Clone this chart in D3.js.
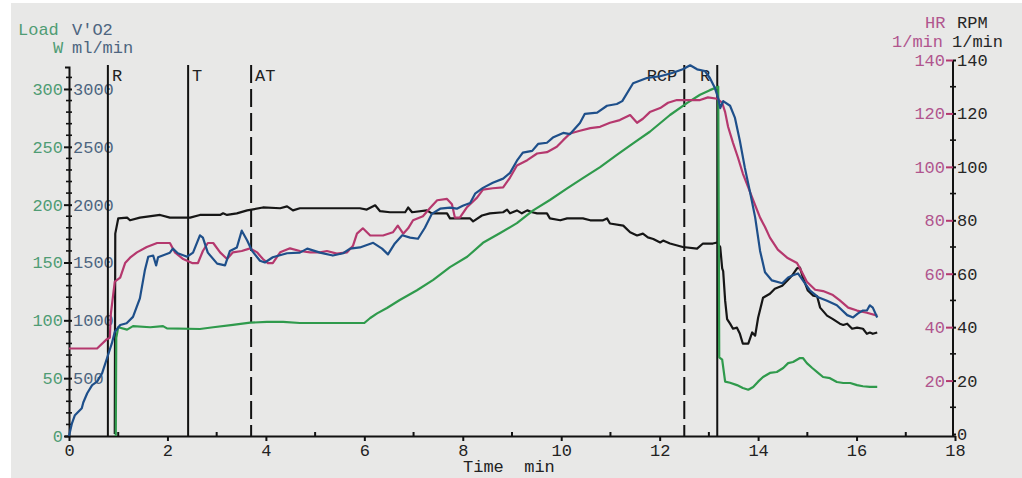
<!DOCTYPE html>
<html>
<head>
<meta charset="utf-8">
<script src="https://cdn.jsdelivr.net/npm/d3@7"></script>
<style>
  body { margin: 0; background: #fff; }
  svg text { font-family: "Liberation Mono", "DejaVu Sans Mono", monospace; font-size: 17px; }
</style>
</head>
<body>
<svg id="chart" width="1022" height="478"></svg>
<script>
// ---- data: [time min, value] ----
const xTicks = [0, 2, 4, 6, 8, 10, 12, 14, 16, 18];
const loadTicks = [0, 50, 100, 150, 200, 250, 300];
const vo2Ticks = [500, 1000, 1500, 2000, 2500, 3000];
const hrTicks = [20, 40, 60, 80, 100, 120, 140];
const rpmTicks = [0, 20, 40, 60, 80, 100, 120, 140];

const markerTimes = [0.79, 2.42, 3.70, 12.5, 13.17];
const markerLabels = ['R', 'T', 'AT', 'RCP', 'R'];
const markerDashed = [false, false, true, true, false];

// V'O2 ml/min
const vo2Data = [
  [0,0],[0.06,110],[0.12,180],[0.26,240],[0.29,290],[0.37,370],[0.47,440],[0.57,470],[0.67,540],
  [0.77,670],[0.87,800],[0.93,900],[1.04,960],[1.17,975],[1.30,1030],[1.44,1190],[1.54,1430],
  [1.61,1550],[1.71,1560],[1.77,1475],[1.81,1545],[2.05,1585],[2.11,1620],[2.21,1580],[2.40,1550],
  [2.52,1585],[2.66,1735],[2.72,1715],[2.82,1585],[3.01,1490],[3.17,1475],[3.27,1600],[3.41,1630],
  [3.51,1775],[3.62,1690],[3.72,1600],[3.88,1515],[3.98,1500],[4.14,1545],[4.43,1580],[4.69,1585],
  [4.84,1620],[5.10,1585],[5.36,1560],[5.57,1580],[5.71,1620],[5.91,1630],[6.18,1670],[6.36,1620],
  [6.48,1570],[6.62,1665],[6.77,1735],[6.93,1715],[7.09,1705],[7.23,1800],[7.37,1920],[7.54,1965],
  [7.74,1975],[7.88,1965],[8.00,1990],[8.15,2015],[8.25,2095],[8.41,2145],[8.61,2190],[8.82,2225],
  [8.96,2275],[9.10,2380],[9.22,2450],[9.41,2465],[9.53,2525],[9.71,2535],[9.83,2580],[10.04,2620],
  [10.18,2610],[10.38,2705],[10.48,2785],[10.73,2795],[10.93,2855],[11.13,2870],[11.24,2895],
  [11.46,3050],[11.74,3095],[12.01,3110],[12.27,3140],[12.47,3170],[12.62,3205],[12.76,3170],
  [12.92,3155],[13.02,3095],[13.12,3010],[13.19,2920],[13.23,2835],[13.29,2895],[13.43,2855],
  [13.53,2750],[13.63,2550],[13.73,2320],[13.84,2100],[13.94,1890],[14.04,1600],[14.14,1415],
  [14.28,1345],[14.49,1320],[14.61,1370],[14.71,1390],[14.81,1405],[14.91,1345],[15.05,1260],
  [15.22,1200],[15.40,1170],[15.60,1130],[15.81,1045],[15.93,1025],[16.03,1060],[16.13,1085],
  [16.21,1085],[16.27,1130],[16.33,1110],[16.42,1025]
];

// HR 1/min
const hrData = [
  [0,32],[0.57,32],[0.77,35.5],[0.83,36],[0.85,45],[0.93,57],[1.04,58.5],[1.14,64],[1.24,66],
  [1.38,68],[1.58,70],[1.79,71.5],[2.05,71.5],[2.15,68],[2.32,65.5],[2.50,64],[2.62,64],[2.72,68.5],
  [2.82,71.5],[2.93,71.5],[3.07,68],[3.21,65.5],[3.33,68],[3.51,68.5],[3.68,69.5],[3.82,68],
  [3.94,65.5],[4.04,64],[4.14,64],[4.29,68],[4.49,69.5],[4.69,68.5],[4.90,68],[5.10,68],[5.24,68.5],
  [5.44,67.5],[5.65,68],[5.77,70.5],[5.85,75],[5.97,77],[6.12,74.3],[6.38,74.3],[6.58,75.5],
  [6.68,78],[6.79,75],[6.89,77],[6.99,80],[7.19,81.5],[7.33,84.5],[7.48,87.5],[7.68,88],[7.78,86],
  [7.84,81],[7.94,81],[8.09,85],[8.29,88.5],[8.41,91.5],[8.61,92],[8.82,92.3],[8.96,96],[9.10,100.5],
  [9.31,102.5],[9.51,105],[9.71,105.5],[9.91,107.5],[10.04,110],[10.18,112.5],[10.38,113.5],
  [10.59,114.5],[10.79,115],[10.99,116.5],[11.19,117.5],[11.40,119.4],[11.54,116.5],[11.66,118],
  [11.80,120.5],[12.01,122],[12.17,124],[12.35,125],[12.56,125],[12.82,125],[12.98,126],[13.17,125.5],
  [13.27,124],[13.33,120.5],[13.39,115],[13.49,109],[13.59,103.5],[13.69,97.5],[13.80,92.3],
  [13.90,87.5],[14.04,81],[14.14,77.5],[14.24,73.5],[14.40,69],[14.59,66],[14.79,64],[14.85,62],
  [14.99,57],[15.16,54],[15.32,53.5],[15.52,52],[15.66,50],[15.83,47.3],[16.01,46.2],[16.21,45.4],
  [16.42,44.3]
];

// RPM 1/min
const rpmData = [
  [0.93,0],[0.94,75],[1.0,80.7],[1.18,81],[1.24,80],[1.44,81],[1.85,82],[2.05,81],[2.46,81],
  [2.66,82],[3.07,82],[3.13,82.6],[3.21,82],[3.41,82.6],[3.62,83.7],[3.94,84.8],[4.29,84.5],
  [4.43,85.2],[4.55,83.7],[4.69,84.5],[5.91,84.5],[6.05,84],[6.22,85.6],[6.32,83.4],[6.52,83],
  [6.83,83],[6.89,84.8],[6.97,83],[7.27,83.7],[7.37,82.6],[7.68,82.6],[7.74,80.7],[8.15,80.7],
  [8.21,79.6],[8.39,81.8],[8.55,82.6],[8.82,83],[8.90,84],[8.96,82.6],[9.10,83.7],[9.20,82.6],
  [9.31,83.7],[9.41,83],[9.51,82.6],[9.71,82.6],[9.77,80.7],[9.98,80],[10.12,80.7],[10.44,80.7],
  [10.59,80],[10.85,80],[10.93,80.7],[10.99,78.8],[11.26,78],[11.40,75.5],[11.54,74.3],[11.66,75],
  [11.76,73.6],[11.87,73],[12.01,71.7],[12.07,72.4],[12.21,71.3],[12.47,70],[12.76,69.4],
  [12.88,71.3],[13.08,71.3],[13.17,71.7],[13.23,70],[13.27,62],[13.29,61],[13.33,50],[13.37,43],
  [13.43,41.3],[13.49,39.4],[13.57,39.8],[13.63,37.5],[13.69,33.8],[13.80,33.8],[13.88,38],
  [13.94,36.8],[14.00,43.5],[14.10,51],[14.24,52.5],[14.34,54.4],[14.49,55.5],[14.59,57.4],
  [14.69,59.3],[14.79,62],[14.85,62.3],[14.91,58.6],[15.01,53.7],[15.12,51.8],[15.20,51.5],
  [15.26,47.3],[15.40,44.3],[15.52,43],[15.66,41.3],[15.73,40.8],[15.81,41.3],[15.91,39.4],
  [16.01,39.8],[16.13,39.4],[16.21,37.5],[16.27,38],[16.33,37.5],[16.42,38]
];

// Load W
const loadData = [
  [0.95,0],[0.96,85],[1.0,94],[1.18,92],[1.30,95],[1.65,94],[1.91,95],[1.99,93],[2.66,92.5],
  [2.93,94],[3.33,96],[3.68,98],[4.02,98.6],[4.35,98.6],[4.69,97.7],[6.0,97.7],[6.12,102],
  [6.26,106],[6.46,110.7],[6.72,117.6],[7.07,126],[7.40,135],[7.74,146],[8.09,155],[8.41,167],
  [8.76,175.5],[9.10,184],[9.43,195],[9.77,204],[10.12,214],[10.44,223],[10.79,232.5],[11.13,243],
  [11.46,253],[11.80,263],[12.21,277.5],[12.56,288],[12.82,295],[13.02,299],[13.19,302],[13.21,68],
  [13.27,66],[13.33,47],[13.43,46],[13.57,44],[13.69,41.5],[13.80,40],[13.90,42.4],[14.00,47],
  [14.10,51],[14.24,54.5],[14.38,55.3],[14.51,58.8],[14.61,63],[14.71,64],[14.85,67.4],[14.91,67.4],
  [14.99,63],[15.10,58.8],[15.20,55.3],[15.32,51],[15.46,50],[15.60,46.7],[15.73,45.8],[15.87,45.8],
  [16.01,44],[16.13,43],[16.27,42.4],[16.42,42.4]
];

// ---- colours ----
const C = {
  load: '#2f9a4c', loadText: '#4f9c74',
  vo2: '#1e4f8a', vo2Text: '#4d6580',
  hr: '#b5386e', hrText: '#b0558e',
  rpm: '#161616', rpmText: '#262626'
};

const svg = d3.select('#chart');

// scanned paper
svg.append('rect').attr('x', 11).attr('y', 3).attr('width', 1011).attr('height', 475).attr('fill', '#e8e8e7');

const x = d3.scaleLinear().domain([0, 18]).range([69, 955]);
const yLoad = d3.scaleLinear().domain([0, 319]).range([436, 67]);
const yVO2 = d3.scaleLinear().domain([0, 3190]).range([436, 67]);
const yHR = d3.scaleLinear().domain([0, 140]).range([434, 60]);
const fmt = d3.format('d');

function styleAxis(g, color) {
  g.selectAll('line').attr('stroke', '#111').attr('stroke-width', 2);
  g.selectAll('path').attr('stroke', '#111').attr('stroke-width', 2);
  g.selectAll('text').attr('fill', color).style('font-size', '17px')
    .style('font-family', '"Liberation Mono", "DejaVu Sans Mono", monospace');
}

// ---- left axis (Load / V'O2) ----
const gL = svg.append('g').attr('transform', `translate(${x(0)},0)`);
gL.append('g')
  .call(d3.axisLeft(yLoad).tickValues(loadTicks).tickFormat(fmt).tickSizeInner(5).tickSizeOuter(4).tickPadding(1))
  .call(g => styleAxis(g, C.loadText));
gL.append('g')
  .call(d3.axisRight(yVO2).tickValues(vo2Ticks).tickFormat(fmt).tickSizeInner(3).tickSizeOuter(0).tickPadding(1))
  .call(g => g.select('.domain').remove())
  .call(g => styleAxis(g, C.vo2Text));
gL.selectAll('.minor')
  .data(d3.range(10, 320, 10).filter(v => v % 50 !== 0))
  .join('line')
  .attr('class', 'minor')
  .attr('x1', -3).attr('x2', 3)
  .attr('y1', d => yLoad(d)).attr('y2', d => yLoad(d))
  .attr('stroke', '#111').attr('stroke-width', 1.6);

// ---- right axis (HR / RPM) ----
const gR = svg.append('g').attr('transform', `translate(${x(18) - 2},0)`);
gR.append('g')
  .call(d3.axisLeft(yHR).tickValues(hrTicks).tickFormat(fmt).tickSizeInner(7).tickSizeOuter(0).tickPadding(1))
  .call(g => g.select('.domain').attr('d', `M0,${yLoad(0)}V${yHR(140)}`))
  .call(g => styleAxis(g, C.hrText));
gR.selectAll('.tick line').attr('stroke', C.hr);
gR.append('g')
  .call(d3.axisRight(yHR).tickValues(rpmTicks).tickFormat(fmt).tickSizeInner(3).tickSizeOuter(0).tickPadding(1))
  .call(g => g.select('.domain').remove())
  .call(g => styleAxis(g, C.rpmText));
gR.selectAll('.minor')
  .data(d3.range(10, 140, 20))
  .join('line')
  .attr('class', 'minor')
  .attr('x1', -3).attr('x2', 3)
  .attr('y1', d => yHR(d)).attr('y2', d => yHR(d))
  .attr('stroke', '#111').attr('stroke-width', 1.6);

// ---- x axis ----
const gX = svg.append('g').attr('transform', `translate(0,${yLoad(0)})`);
gX.call(d3.axisBottom(x).tickValues(xTicks).tickFormat(fmt).tickSizeInner(5).tickSizeOuter(0).tickPadding(3))
  .call(g => styleAxis(g, '#222'));
gX.selectAll('.minor')
  .data(d3.range(1, 18, 2))
  .join('line')
  .attr('class', 'minor')
  .attr('x1', d => x(d)).attr('x2', d => x(d))
  .attr('y1', 0).attr('y2', -4)
  .attr('stroke', '#111').attr('stroke-width', 2);
svg.append('text')
  .attr('x', 463).attr('y', 472)
  .style('white-space', 'pre')
  .attr('fill', '#222')
  .text('Time  min');

// ---- axis titles ----
const titles = [
  { t: 'Load', x: 18, y: 35, c: C.loadText },
  { t: "V'O2", x: 72, y: 35, c: C.vo2Text },
  { t: 'W', x: 53, y: 53, c: C.loadText },
  { t: 'ml/min', x: 72, y: 53, c: C.vo2Text },
  { t: 'HR', x: 925, y: 28, c: C.hrText },
  { t: 'RPM', x: 957, y: 28, c: C.rpmText },
  { t: '1/min', x: 892, y: 47, c: C.hrText },
  { t: '1/min', x: 952, y: 47, c: C.rpmText }
];
svg.selectAll('.title').data(titles).join('text')
  .attr('class', 'title')
  .attr('x', d => d.x).attr('y', d => d.y)
  .attr('fill', d => d.c)
  .text(d => d.t);

// ---- event markers ----
const markers = markerTimes.map((t, i) => ({ t, label: markerLabels[i], dashed: markerDashed[i] }));
const gM = svg.append('g');
gM.selectAll('line').data(markers).join('line')
  .attr('x1', d => x(d.t)).attr('x2', d => x(d.t))
  .attr('y1', 65).attr('y2', yLoad(0))
  .attr('stroke', '#111').attr('stroke-width', 2)
  .attr('stroke-dasharray', d => d.dashed ? '18,6' : null);
gM.selectAll('text').data(markers).join('text')
  .attr('x', d => d.t > 9 ? x(d.t) - 7 : x(d.t) + 4)
  .attr('y', 81)
  .attr('text-anchor', d => d.t > 9 ? 'end' : 'start')
  .attr('fill', '#222')
  .text(d => d.label);

// ---- series ----
const series = [
  { data: rpmData, y: yHR, c: C.rpm },
  { data: loadData, y: yLoad, c: C.load },
  { data: hrData, y: yHR, c: C.hr },
  { data: vo2Data, y: yVO2, c: C.vo2 }
];
series.forEach(s => {
  svg.append('path')
    .datum(s.data)
    .attr('fill', 'none')
    .attr('stroke', s.c)
    .attr('stroke-width', 2.2)
    .attr('stroke-linejoin', 'round')
    .attr('d', d3.line().x(d => x(d[0])).y(d => s.y(d[1])));
});
</script>
</body>
</html>
